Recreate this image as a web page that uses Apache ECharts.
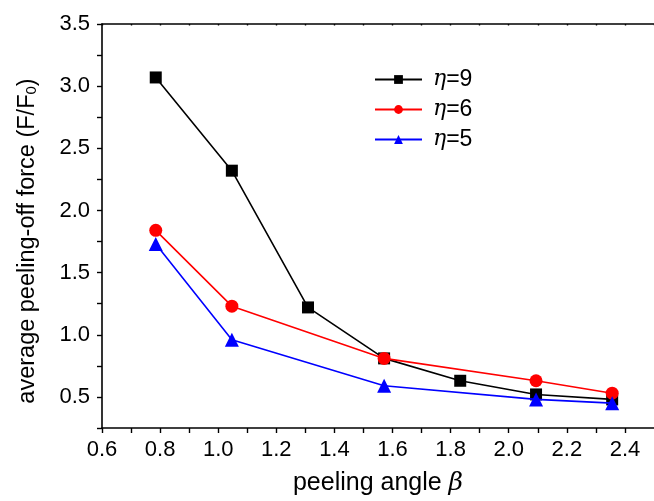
<!DOCTYPE html>
<html>
<head>
<meta charset="utf-8">
<script src="https://cdn.jsdelivr.net/npm/echarts@6/dist/echarts.min.js"></script>
<style>
  html, body { margin: 0; padding: 0; background: #fff; }
  #main { width: 654px; height: 501px; }
</style>
</head>
<body>
<div id="main"></div>
<script>
// peeling angle beta (rad)
var angles9 = [0.785, 1.047, 1.309, 1.571, 1.833, 2.094, 2.356];
var force9 = [3.07, 2.32, 1.22, 0.81, 0.63, 0.52, 0.48];

var angles6 = [0.785, 1.047, 1.571, 2.094, 2.356];
var force6 = [1.84, 1.23, 0.81, 0.63, 0.53];

var angles5 = [0.785, 1.047, 1.571, 2.094, 2.356];
var force5 = [1.73, 0.96, 0.59, 0.48, 0.45];

var seriesNames = ['η=9', 'η=6', 'η=5'];

function pairs(xs, ys) {
  var out = [];
  for (var i = 0; i < xs.length; i++) out.push([xs[i], ys[i]]);
  return out;
}

var font = 'Liberation Sans, Arial, Helvetica, sans-serif';
var chart = echarts.init(document.getElementById('main'));

var option = {
  animation: false,
  textStyle: { fontFamily: font },
  grid: { left: 102, right: -3, top: 24, bottom: 71, containLabel: false },
  legend: {
    data: seriesNames,
    orient: 'vertical',
    left: 374,
    top: 68,
    padding: 0,
    itemWidth: 47,
    itemHeight: 11,
    itemGap: 7,
    formatter: function (name) {
      return '{i|η}{n|' + name.slice(1) + '}';
    },
    textStyle: {
      fontSize: 22,
      color: '#000',
      padding: [0, 0, 0, 6],
      rich: {
        i: { fontSize: 22, fontStyle: 'italic', fontFamily: 'DejaVu Serif, serif', color: '#000' },
        n: { fontSize: 23, fontFamily: font, color: '#000' }
      }
    }
  },
  xAxis: [{
    type: 'value',
    min: 0.6,
    max: 2.5,
    interval: 0.1,
    name: '{a|peeling angle }{b|β}',
    nameLocation: 'middle',
    nameGap: 43,
    nameTextStyle: {
      rich: {
        a: { fontSize: 25, fontFamily: font, color: '#000' },
        b: { fontSize: 25, fontStyle: 'italic', fontFamily: 'DejaVu Serif, serif', color: '#000' }
      }
    },
    axisLine: { lineStyle: { color: '#000', width: 1.6 } },
    axisTick: { length: 5, lineStyle: { color: '#000', width: 1.4 } },
    axisLabel: {
      margin: 11,
      fontSize: 22,
      color: '#000',
      showMaxLabel: false,
      formatter: function (v) {
        var k = Math.round(v * 10);
        return k % 2 === 0 ? (k / 10).toFixed(1) : '';
      }
    },
    splitLine: { show: false }
  }, {
    type: 'value',
    position: 'top',
    min: 0.6,
    max: 2.5,
    interval: 0.1,
    axisLine: { show: true, lineStyle: { color: '#000', width: 1.6 } },
    axisTick: { show: true, inside: true, length: 1.5, lineStyle: { color: '#000', width: 1.4 } },
    axisLabel: { show: false },
    splitLine: { show: false }
  }],
  yAxis: {
    type: 'value',
    min: 0.25,
    max: 3.5,
    interval: 0.25,
    name: '{a|average peeling-off force (F/F}{s|0}{a|)}',
    nameLocation: 'middle',
    nameGap: 62,
    nameRotate: 90,
    nameTextStyle: {
      padding: [0, 30, 0, 0],
      rich: {
        a: { fontSize: 23.5, fontFamily: font, color: '#000' },
        s: { fontSize: 15, fontFamily: font, color: '#000', padding: [8, 0, 0, 0] }
      }
    },
    axisLine: { show: true, lineStyle: { color: '#000', width: 1.6 } },
    axisTick: { length: 5, lineStyle: { color: '#000', width: 1.4 } },
    axisLabel: {
      margin: 12,
      fontSize: 22,
      color: '#000',
      formatter: function (v) {
        var k = Math.round(v * 4);
        return k % 2 === 0 ? (k / 4).toFixed(1) : '';
      }
    },
    splitLine: { show: false }
  },
  series: [{
    name: seriesNames[0],
    type: 'line',
    data: pairs(angles9, force9),
    symbol: 'rect',
    symbolSize: 12,
    itemStyle: { color: '#000' },
    lineStyle: { color: '#000', width: 1.6 },
    z: 3
  }, {
    name: seriesNames[1],
    type: 'line',
    data: pairs(angles6, force6),
    symbol: 'circle',
    symbolSize: 13,
    itemStyle: { color: '#ff0000' },
    lineStyle: { color: '#ff0000', width: 1.6 },
    z: 4
  }, {
    name: seriesNames[2],
    type: 'line',
    data: pairs(angles5, force5),
    symbol: 'triangle',
    symbolSize: 14,
    itemStyle: { color: '#0000ff' },
    lineStyle: { color: '#0000ff', width: 1.6 },
    z: 5
  }]
};

chart.setOption(option);
</script>
</body>
</html>
